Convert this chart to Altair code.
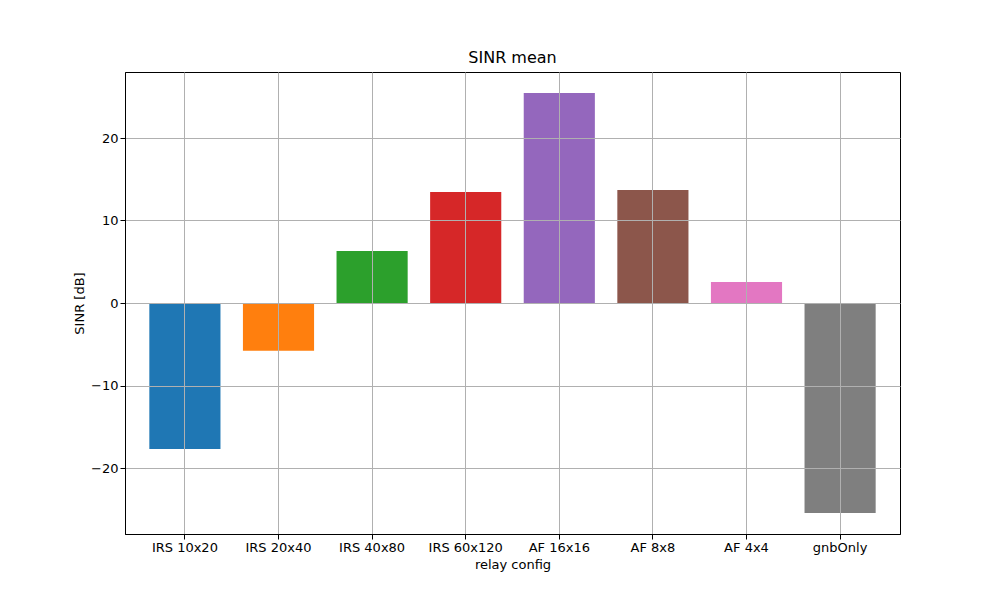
import altair as alt
import pandas as pd

configs = ["IRS 10x20", "IRS 20x40", "IRS 40x80", "IRS 60x120", "AF 16x16", "AF 8x8", "AF 4x4", "gnbOnly"]
sinr = [-17.7, -5.8, 6.3, 13.45, 25.45, 13.7, 2.55, -25.45]
colors = ["#1f77b4", "#ff7f0e", "#2ca02c", "#d62728", "#9467bd", "#8c564b", "#e377c2", "#7f7f7f"]

df = pd.DataFrame({"config": configs, "sinr": sinr})

chart = alt.Chart(df).mark_bar().encode(
    x=alt.X("config:N", sort=configs, title="relay config",
            scale=alt.Scale(paddingInner=0.24, paddingOuter=0.26),
            axis=alt.Axis(labelAngle=0, grid=True, gridColor="#b0b0b0", zindex=1,
                          bandPosition=0.5)),
    y=alt.Y("sinr:Q", title="SINR [dB]",
            scale=alt.Scale(domain=[-28, 28], nice=False),
            axis=alt.Axis(values=[-20, -10, 0, 10, 20], gridColor="#b0b0b0", zindex=1)),
    color=alt.Color("config:N", sort=configs, scale=alt.Scale(domain=configs, range=colors), legend=None),
).properties(
    width=775, height=462, title="SINR mean",
    padding={"left": 117, "top": 64, "right": 92, "bottom": 58},
    autosize="none",
).configure_view(stroke="black", strokeWidth=1).configure_axis(
    labelFont="DejaVu Sans", titleFont="DejaVu Sans", labelFontSize=13, titleFontSize=13,
    titleFontWeight="normal", labelColor="black", titleColor="black",
    domainColor="black", tickColor="black", gridWidth=1
).configure_title(font="DejaVu Sans", fontSize=16, fontWeight="normal", offset=6)

chart.save("out.html", embed_options={"renderer": "svg", "actions": False})
